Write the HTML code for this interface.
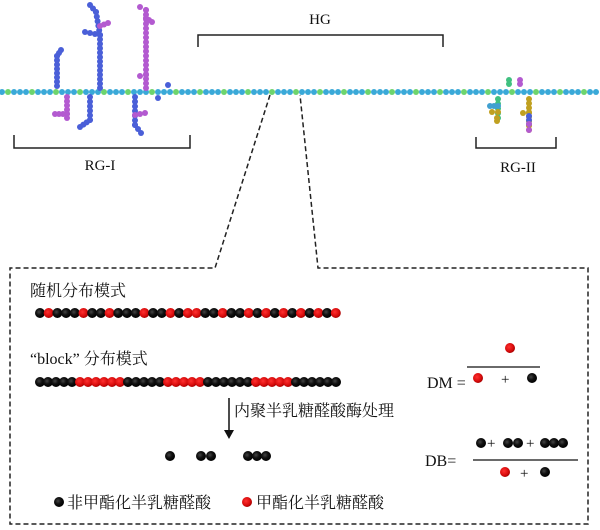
<!DOCTYPE html>
<html><head><meta charset="utf-8"><style>
body{margin:0;background:#fff;width:600px;height:530px;overflow:hidden}
svg{position:absolute;left:0;top:0}
text{font-family:"Liberation Serif","Noto Serif CJK SC",serif;fill:#111}
.cj{font-family:"Liberation Serif","Noto Serif CJK SC",serif}
</style></head><body>
<svg id="s" width="600" height="530" viewBox="0 0 600 530">
<defs>
<radialGradient id="gb" cx="0.4" cy="0.4" r="0.6"><stop offset="0" stop-color="#444"/><stop offset="0.5" stop-color="#111"/><stop offset="1" stop-color="#000"/></radialGradient>
<radialGradient id="gr" cx="0.4" cy="0.4" r="0.6"><stop offset="0" stop-color="#ff3030"/><stop offset="0.7" stop-color="#d80c0c"/><stop offset="1" stop-color="#a00"/></radialGradient>
</defs>
<g id="chains"></g>
<g fill="none" stroke="#222" stroke-width="1.5">
<path d="M198,47 V35 H443 V47"/>
<path d="M14,135 V148 H190 V135"/>
<path d="M476,137 V148 H556 V137"/>
</g>
<text x="320" y="24" font-size="15" text-anchor="middle">HG</text>
<text x="100" y="170" font-size="15" text-anchor="middle">RG-I</text>
<text x="518" y="172" font-size="15" text-anchor="middle">RG-II</text>
<g fill="none" stroke="#222" stroke-width="1.5" stroke-dasharray="5,3">
<path d="M270,95 L215,268 H10 V524 H588 V268 H318 L300,95"/>
</g>
<text x="30" y="296" font-size="16" class="cj">随机分布模式</text>
<text x="30" y="364" font-size="16" class="cj">“block” 分布模式</text>
<g id="beads"></g>
<line x1="229" y1="398" x2="229" y2="432" stroke="#111" stroke-width="1.5"/>
<path d="M224,430 L229,439 L234,430 Z" fill="#111"/>
<text x="234" y="416" font-size="16" class="cj">内聚半乳糖醛酸酶处理</text>
<text x="67" y="508" font-size="16" class="cj">非甲酯化半乳糖醛酸</text>
<text x="256" y="508" font-size="16" class="cj">甲酯化半乳糖醛酸</text>
<text x="427" y="388" font-size="16">DM =</text>
<line x1="467" y1="367" x2="540" y2="367" stroke="#111" stroke-width="1.3"/>
<text x="501" y="384" font-size="15">+</text>
<text x="425" y="466" font-size="16">DB=</text>
<line x1="473" y1="460" x2="578" y2="460" stroke="#111" stroke-width="1.3"/>
<text x="487" y="448" font-size="15">+</text>
<text x="526" y="448" font-size="15">+</text>
<text x="520" y="478" font-size="15">+</text>
</svg>
<script>
var NS="http://www.w3.org/2000/svg";
function c(g,x,y,r,f){var e=document.createElementNS(NS,"circle");e.setAttribute("cx",x);e.setAttribute("cy",y);e.setAttribute("r",r);e.setAttribute("fill",f);document.getElementById(g).appendChild(e);}
var B="url(#gb)",R="url(#gr)";
for(var x=2;x<600;x+=6){c("chains",x,92,3,(Math.floor(x/6)%4==1)?"#6dd46d":"#3aa9d8");}
function line(x1,y1,x2,y2,col){var n=Math.max(1,Math.round(Math.hypot(x2-x1,y2-y1)/4.5));for(var i=0;i<=n;i++)c("chains",x1+(x2-x1)*i/n,y1+(y2-y1)*i/n,3,col);}
var bl="#4a5fd8",pu="#b35ad0";
line(57,86,57,56,bl);line(57,56,61,50,bl);
line(67,97,67,118,pu);line(67,114,55,114,pu);
line(100,88,100,35,bl);line(100,35,96,12,bl);line(96,12,90,5,bl);line(100,35,85,32,bl);line(100,26,108,23,pu);
line(90,97,90,120,bl);line(90,120,80,127,bl);
line(146,88,146,10,pu);line(146,10,140,7,pu);line(146,18,152,22,pu);line(146,75,140,76,pu);
line(135,97,135,125,bl);line(135,125,141,133,bl);line(135,115,145,113,pu);
c("chains",168,85,3,bl);c("chains",158,98,3,bl);
line(509,84,509,80,"#40c080");line(520,84,520,80,pu);
line(498,99,498,118,"#40c080");line(498,106,490,106,"#40a0d0");line(498,112,492,112,"#c0a020");line(497,118,497,121,"#c0a020");
line(529,99,529,130,"#c0a020");line(529,113,523,113,"#c0a020");line(529,116,529,124,bl);line(529,124,529,130,pu);
var rr=[1,5,8,12,15,17,18,21,24,26,28,30,32,34];
for(var i=0;i<35;i++)c("beads",40+i*8.7,313,5,rr.indexOf(i)>=0?R:B);
var blk="BBBBBRRRRRRBBBBBRRRRRBBBBBBRRRRRBBBBBB";
for(var i=0;i<blk.length;i++)c("beads",40+i*8.0,382,5,blk[i]=="R"?R:B);
[[170,456],[201,456],[211,456],[248,456],[257,456],[266,456]].forEach(function(p){c("beads",p[0],p[1],5,B)});
c("beads",59,502,5,B);c("beads",247,502,5,R);
c("beads",510,348,5,R);c("beads",478,378,5,R);c("beads",532,378,5,B);
[481,508,518,545,554,563].forEach(function(x){c("beads",x,443,5,B)});
c("beads",505,472,5,R);c("beads",545,472,5,B);
</script>
</body></html>
